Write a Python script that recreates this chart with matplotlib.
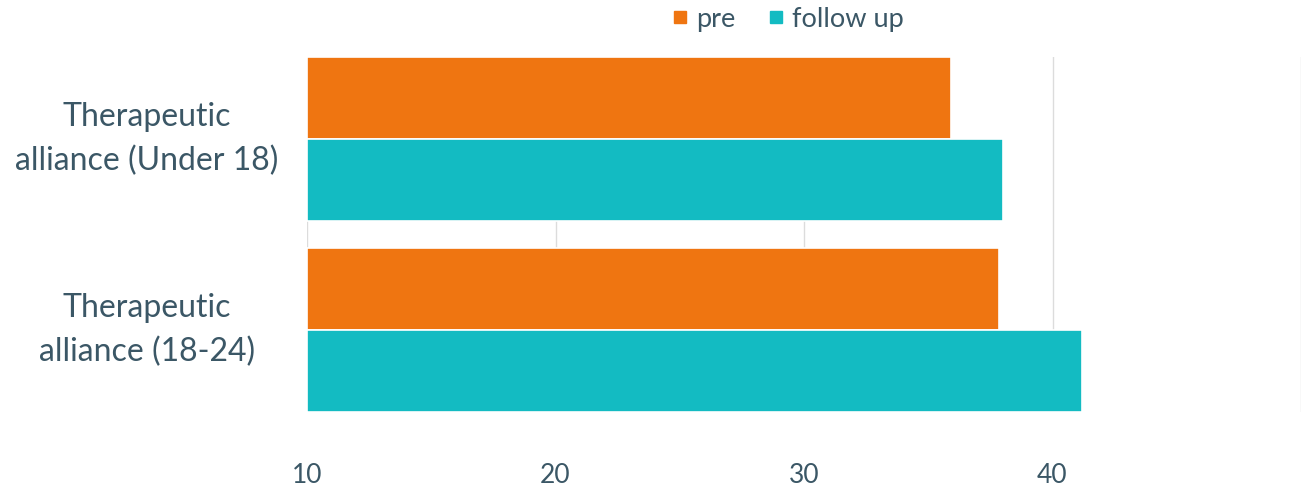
import numpy as np
import matplotlib.pyplot as plt
from matplotlib.lines import Line2D

# data
categories = ['Therapeutic\nalliance (Under 18)', 'Therapeutic\nalliance (18-24)']
pre = [35.9, 37.85]
follow_up = [38.0, 41.2]
series_names = ['pre', 'follow up']
x_ticks = [10, 20, 30, 40, 50]
x_tick_labels = ['10', '20', '30', '40', '']

orange = '#EF7511'
teal = '#13BBC2'
txt = '#3B5766'

plt.rcParams['font.family'] = ['Lato', 'DejaVu Sans']

fig = plt.figure(figsize=(13.03, 4.91), dpi=100)
ax = fig.add_axes([307 / 1303, 1 - 412 / 491, (1301 - 307) / 1303, 355 / 491])

y = np.arange(len(categories))
h = 0.43
left = 10
ax.barh(y - h / 2, np.array(pre) - left, left=left, height=h, color=orange,
        edgecolor='white', linewidth=1.2, zorder=3)
ax.barh(y + h / 2, np.array(follow_up) - left, left=left, height=h, color=teal,
        edgecolor='white', linewidth=1.2, zorder=3)

ax.set_xlim(10, 50)
ax.set_ylim(len(categories) - 1 + h, -h)
ax.set_xticks(x_ticks)
ax.set_xticklabels(x_tick_labels, fontsize=19, color=txt)
ax.set_yticks([])
# category labels, centred to the left of each bar pair
for yi, cat in zip(y, categories):
    ax.text(-0.161, yi, cat, transform=ax.get_yaxis_transform(), ha='center',
            va='center', multialignment='center', fontsize=23, color=txt,
            linespacing=1.55)
ax.tick_params(axis='x', length=0, pad=37)
ax.grid(axis='x', color='#dcdcdc', linewidth=1, zorder=0)
for s in ax.spines.values():
    s.set_visible(False)

handles = [Line2D([], [], marker='s', linestyle='', color=orange, markersize=9),
           Line2D([], [], marker='s', linestyle='', color=teal, markersize=9)]
fig.legend(handles, series_names, loc='center', bbox_to_anchor=(788 / 1303, 1 - 19 / 491),
           ncol=2, frameon=False, fontsize=19.5, labelcolor=txt, handletextpad=0.3,
           columnspacing=1.2, handlelength=0.6)

fig.savefig('out.png', dpi=100)
